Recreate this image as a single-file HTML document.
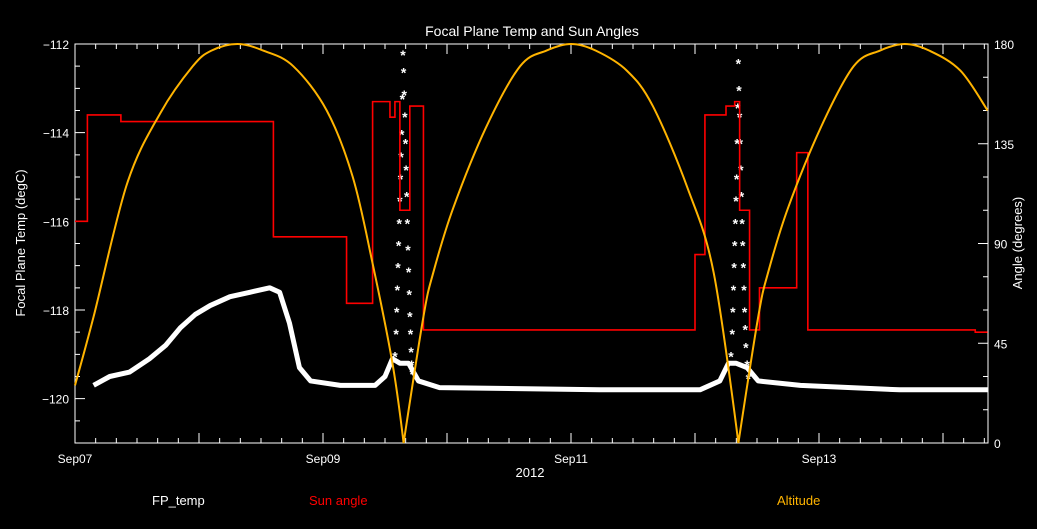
<!DOCTYPE html>
<html><head><meta charset="utf-8"><style>
html,body{margin:0;padding:0;background:#000;}
svg{display:block;font-family:"Liberation Sans",sans-serif;}
</style></head><body>
<svg id="chart" width="1037" height="529" viewBox="0 0 1037 529">
<rect width="1037" height="529" fill="#000"/>
<text x="532" y="36" fill="#fff" font-size="14" text-anchor="middle">Focal Plane Temp and Sun Angles</text>
<g id="axes"></g>
<g id="series"></g>
<text x="530" y="477" fill="#fff" font-size="13" text-anchor="middle">2012</text>
<text transform="translate(25,243) rotate(-90)" fill="#fff" font-size="13" text-anchor="middle">Focal Plane Temp (degC)</text>
<text transform="translate(1022,243) rotate(-90)" fill="#fff" font-size="13" text-anchor="middle">Angle (degrees)</text>
<text x="152" y="505" fill="#fff" font-size="13">FP_temp</text>
<text x="309" y="505" fill="#ff0000" font-size="13">Sun angle</text>
<text x="777" y="505" fill="#ffb400" font-size="13">Altitude</text>
</svg>
<script>
const xTickLabels=["Sep07","Sep09","Sep11","Sep13"];
const xTickDays=[0,2,4,6];
const leftTicks=[-112,-114,-116,-118,-120];
const rightTicks=[0,45,90,135,180];
const tempT=[0.15,0.28,0.44,0.60,0.73,0.85,0.97,1.09,1.25,1.41,1.57,1.65,1.73,1.81,1.90,2.14,2.42,2.50,2.56,2.62,2.69,2.77,2.94,4.23,5.04,5.20,5.27,5.33,5.42,5.51,5.85,6.65,7.36];
const tempV=[-119.7,-119.5,-119.4,-119.1,-118.8,-118.4,-118.1,-117.9,-117.7,-117.6,-117.5,-117.6,-118.3,-119.3,-119.6,-119.7,-119.7,-119.5,-119.1,-119.2,-119.2,-119.6,-119.75,-119.8,-119.8,-119.6,-119.2,-119.2,-119.3,-119.6,-119.7,-119.8,-119.8];
const spikeT=[2.58,2.59,2.595,2.60,2.605,2.61,2.615,2.62,2.625,2.63,2.635,2.64,2.645,2.65,2.655,2.66,2.665,2.67,2.675,2.68,2.685,2.69,2.695,2.70,2.705,2.71,2.715,2.72,5.29,5.30,5.305,5.31,5.315,5.32,5.325,5.33,5.335,5.34,5.345,5.35,5.355,5.36,5.365,5.37,5.375,5.38,5.385,5.39,5.395,5.40,5.405,5.41,5.42,5.43];
const spikeV=[-119,-118.5,-118,-117.5,-117,-116.5,-116,-115.5,-115,-114.5,-114,-113.2,-112.2,-112.6,-113.1,-113.6,-114.2,-114.8,-115.4,-116,-116.6,-117.1,-117.6,-118.1,-118.5,-118.9,-119.2,-119.4,-119,-118.5,-118,-117.5,-117,-116.5,-116,-115.5,-115,-114.2,-113.4,-112.4,-113,-113.6,-114.2,-114.8,-115.4,-116,-116.5,-117,-117.5,-118,-118.4,-118.8,-119.2,-119.5];
const sunT=[0,0.10,0.37,1.60,2.19,2.40,2.54,2.58,2.62,2.70,2.81,5.00,5.08,5.25,5.32,5.36,5.44,5.52,5.82,5.91,7.26,7.36];
const sunV=[100,148,145,93,63,154,147,154,105,152,51,85,148,152,154,105,51,70,131,51,50,50];
const altT=[0,0.15,0.42,0.69,0.95,1.10,1.31,1.52,1.76,2.03,2.24,2.40,2.56,2.65,2.81,2.89,3.05,3.32,3.59,3.80,4.0,4.20,4.45,4.66,4.94,5.15,5.35,5.51,5.59,5.75,6.02,6.28,6.49,6.69,6.89,7.14,7.36];
const altV=[26,57,117,149,170,177,180,177,170,150,120,81,36,0,57,77,106,143,170,177,180,177,168,152,115,77,0,57,77,106,143,170,177,180,177,168,150];
const L=75,R=988,T=44,B=443,NS="http://www.w3.org/2000/svg";
const xs=d=>L+d*124;
const yl=v=>T+(-112-v)*(B-T)/9;
const yr=v=>B-v*(B-T)/180;
function mk(tag,attrs,parent){const e=document.createElementNS(NS,tag);for(const k in attrs)e.setAttribute(k,attrs[k]);parent.appendChild(e);return e;}
const ax=document.getElementById('axes'),se=document.getElementById('series');
const frame=mk('rect',{x:L,y:T,width:R-L,height:B-T,fill:'none',stroke:'#fff','stroke-width':1},ax);


let tk='';
for(let h=0;h*4/24<=7.37;h++){const x=xs(h*4/24);const len=h%6==0?10:5;tk+=`M${x},${B}v-${len}M${x},${T}v${len}`;}
for(let v=-112;v>=-121;v-=0.5){const y=yl(v);const len=v%2==0?10:5;tk+=`M${L},${y}h${len}`;}
for(let v=0;v<=180;v+=15){const y=yr(v);const len=v%45==0?10:5;tk+=`M${R},${y}h-${len}`;}
const ticks=mk('path',{d:tk,stroke:'#fff','stroke-width':1,fill:'none'},ax);


xTickDays.forEach((d,i)=>{const t=mk('text',{x:xs(d),y:463,fill:'#fff','font-size':12,'text-anchor':'middle'},ax);t.textContent=xTickLabels[i];

});
leftTicks.forEach(v=>{const t=mk('text',{x:L-6,y:yl(v)+5,fill:'#fff','font-size':12,'text-anchor':'end'},ax);t.textContent=String(v).replace('-','\u2212');

});
rightTicks.forEach(v=>{const t=mk('text',{x:R+6,y:yr(v)+5,fill:'#fff','font-size':12},ax);t.textContent=v;

});
const tl=mk('polyline',{points:tempT.map((t,i)=>xs(t)+','+yl(tempV[i])).join(' '),fill:'none',stroke:'#fff','stroke-width':5,'stroke-linejoin':'round'},se);


spikeT.forEach((t,i)=>{const s=mk('text',{x:xs(t),y:yl(spikeV[i])+7,fill:'#fff','font-size':14,'font-weight':'bold','text-anchor':'middle'},se);s.textContent='*';

});
let sd='';sunT.forEach((t,i)=>{const x=xs(t),y=yr(sunV[i]);if(i==0)sd+=`M${x},${y}`;else sd+=`H${x}V${y}`;});
const sl=mk('path',{d:sd,fill:'none',stroke:'#ff0000','stroke-width':1.6},se);


const P=altT.map((t,i)=>[xs(t),yr(altV[i])]);
let ad=`M${P[0][0]},${P[0][1]}`;
for(let i=0;i<P.length-1;i++){const p0=P[i-1]||P[i],p1=P[i],p2=P[i+1],p3=P[i+2]||p2;
 const sharp1=altV[i]===0,sharp2=altV[i+1]===0;
 const c1=sharp1?p1:[p1[0]+(p2[0]-p0[0])/6,p1[1]+(p2[1]-p0[1])/6];
 const c2=sharp2?p2:[p2[0]-(p3[0]-p1[0])/6,p2[1]-(p3[1]-p1[1])/6];
 ad+=`C${c1[0]},${c1[1]} ${c2[0]},${c2[1]} ${p2[0]},${p2[1]}`;}
const al=mk('path',{d:ad,fill:'none',stroke:'#ffb400','stroke-width':2},se);


</script>
</body></html>
